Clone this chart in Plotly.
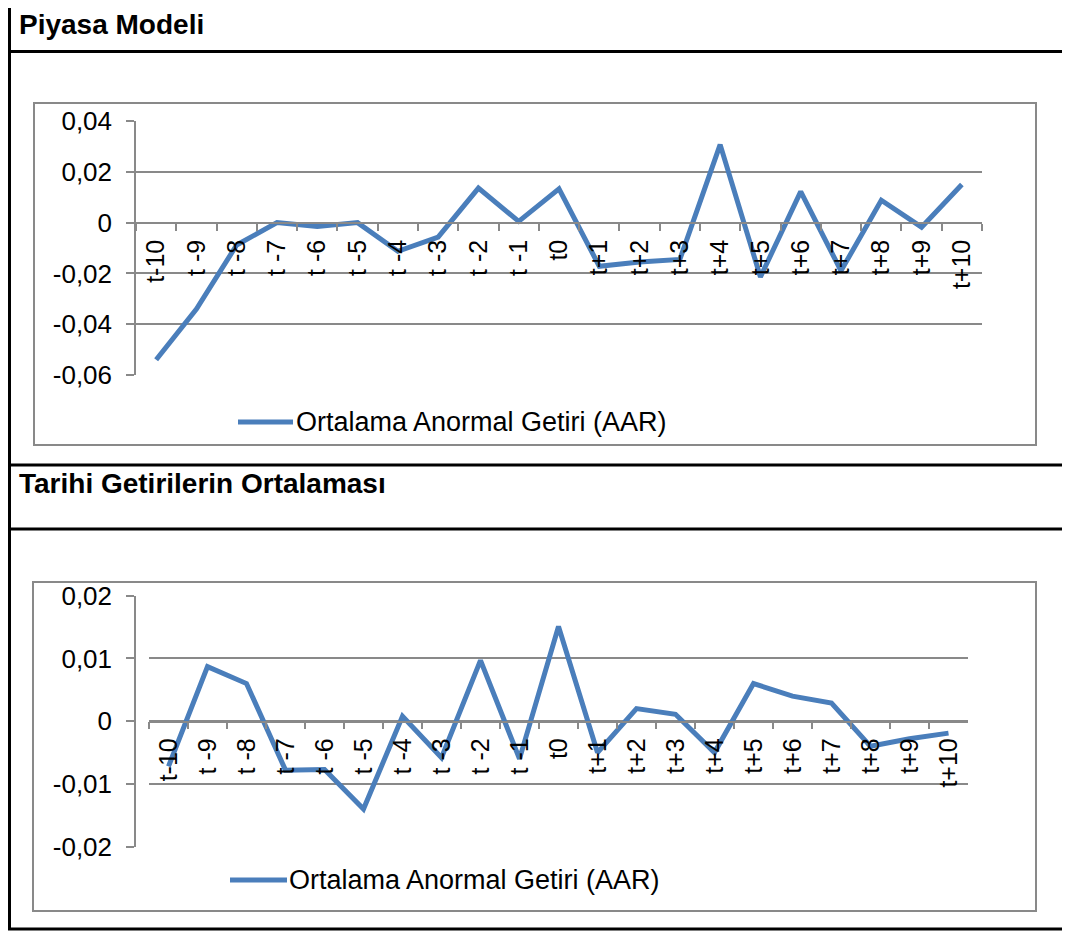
import plotly.graph_objects as go

# categories (event window)
gunler = ["t-10", "t -9", "t -8", "t -7", "t -6", "t -5", "t -4", "t -3", "t -2", "t -1", "t0",
          "t+1", "t+2", "t+3", "t+4", "t+5", "t+6", "t+7", "t+8", "t+9", "t+10"]

# Piyasa Modeli - AAR
aar_piyasa = [-0.054, -0.034, -0.0088, 0.0, -0.0015, 0.0, -0.0113, -0.0057, 0.0136, 0.0005, 0.0133,
              -0.0172, -0.0155, -0.0145, 0.0307, -0.0214, 0.0122, -0.019, 0.0088, -0.0018, 0.0150]

# Tarihi Getirilerin Ortalamasi - AAR
aar_tarihi = [-0.0072, 0.0087, 0.0060, -0.0078, -0.0077, -0.0140, 0.0008, -0.0058, 0.0097, -0.0060, 0.0151,
              -0.0050, 0.0020, 0.0011, -0.0050, 0.0060, 0.0040, 0.0029, -0.0040, -0.0028, -0.0019]

y1_ticks = [-0.06, -0.04, -0.02, 0, 0.02, 0.04]
y1_text = ["-0,06", "-0,04", "-0,02", "0", "0,02", "0,04"]
y2_ticks = [-0.02, -0.01, 0, 0.01, 0.02]
y2_text = ["-0,02", "-0,01", "0", "0,01", "0,02"]

seri_adi = "Ortalama Anormal Getiri (AAR)"
OFS = 8  # page body margin
W, H = 1070 - OFS, 931 - OFS
MAVI = "#4a7ebb"
GRI = "#898989"
FONT = "Arial, Liberation Sans, sans-serif"


def px(x):
    return (x - OFS) / W


def py(y):
    return 1 - (y - OFS) / H


fig = go.Figure()
fig.add_trace(go.Scatter(x=gunler, y=aar_piyasa, mode="lines", name=seri_adi,
                         line=dict(color=MAVI, width=5), xaxis="x", yaxis="y"))
fig.add_trace(go.Scatter(x=gunler, y=aar_tarihi, mode="lines", name=seri_adi,
                         line=dict(color=MAVI, width=5), xaxis="x2", yaxis="y2"))

xstyle = dict(type="category", range=[-0.5, len(gunler) - 0.5], showgrid=False, showline=True,
              linecolor=GRI, linewidth=1.5, ticks="outside", tickson="boundaries", ticklen=7,
              tickcolor=GRI, tickwidth=1.5, tickangle=-90,
              tickfont=dict(family=FONT, size=25, color="black"),
              ticklabelstandoff=6, anchor="free", automargin=False, fixedrange=True)
ystyle = dict(showgrid=True, gridcolor=GRI, gridwidth=1.5, zeroline=False, showline=True,
              linecolor=GRI, linewidth=1.5, ticks="outside", ticklen=8, tickcolor=GRI, tickwidth=1.5,
              tickfont=dict(family=FONT, size=26, color="black"), ticklabelstandoff=9,
              automargin=False, fixedrange=True)

fig.update_layout(
    width=W, height=H,
    margin=dict(l=0, r=0, t=0, b=0, pad=0, autoexpand=False),
    paper_bgcolor="white", plot_bgcolor="white",
    showlegend=False,
    xaxis=dict(xstyle, domain=[px(136), px(982)], position=py(223)),
    yaxis=dict(ystyle, domain=[py(375), py(121)], range=[-0.06, 0.04],
               tickvals=y1_ticks, ticktext=y1_text),
    xaxis2=dict(xstyle, domain=[px(149), px(968)], position=py(721.5)),
    yaxis2=dict(ystyle, domain=[py(846.7), py(595.7)], range=[-0.02, 0.02],
                tickvals=y2_ticks, ticktext=y2_text),
)

# table frame and chart boxes
SIYAH = dict(color="black", width=3)
shapes = [
    dict(type="line", x0=px(9.5), x1=px(9.5), y0=py(OFS), y1=py(929), line=SIYAH),
    dict(type="line", x0=px(1067), x1=px(1067), y0=py(OFS), y1=py(929), line=SIYAH),
    dict(type="line", x0=px(8), x1=px(1067), y0=py(929), y1=py(929), line=SIYAH),
    dict(type="line", x0=px(8), x1=px(1067), y0=py(51.5), y1=py(51.5), line=SIYAH),
    dict(type="line", x0=px(8), x1=px(1067), y0=py(465), y1=py(465), line=SIYAH),
    dict(type="line", x0=px(8), x1=px(1067), y0=py(529), y1=py(529), line=SIYAH),
    dict(type="rect", x0=px(34), x1=px(1036), y0=py(103), y1=py(445), line=dict(color=GRI, width=2)),
    dict(type="rect", x0=px(33), x1=px(1036), y0=py(582), y1=py(911), line=dict(color=GRI, width=2)),
    # legend keys
    dict(type="line", x0=px(238), x1=px(293), y0=py(422), y1=py(422), line=dict(color=MAVI, width=5)),
    dict(type="line", x0=px(230), x1=px(287), y0=py(880), y1=py(880), line=dict(color=MAVI, width=5)),
]
for s in shapes:
    s.update(xref="paper", yref="paper", layer="below")
fig.update_layout(shapes=shapes)

# legend texts
for lx, ly in [(295, 422), (288, 880)]:
    fig.add_annotation(text=seri_adi, x=px(lx), y=py(ly), xref="paper", yref="paper",
                       xanchor="left", yanchor="middle", showarrow=False, borderpad=0,
                       font=dict(family=FONT, size=27, color="black"))

fig.add_annotation(text="<b>Piyasa Modeli</b>", x=px(17), y=py(24), xref="paper", yref="paper",
                   xanchor="left", yanchor="middle", showarrow=False,
                   font=dict(family=FONT, size=28, color="black"))
fig.add_annotation(text="<b>Tarihi Getirilerin Ortalaması</b>", x=px(17), y=py(483), xref="paper",
                   yref="paper", xanchor="left", yanchor="middle", showarrow=False,
                   font=dict(family=FONT, size=28, color="black"))

fig.write_html("out.html")
